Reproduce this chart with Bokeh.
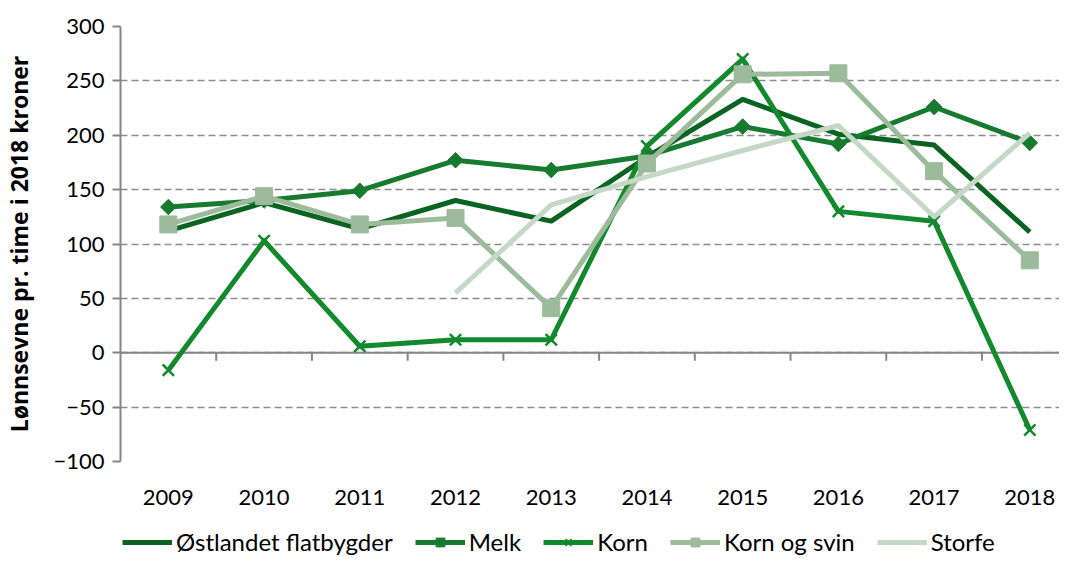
import numpy as np
from bokeh.plotting import figure
from bokeh.layouts import column
from bokeh.models import (Range1d, FixedTicker, Span, Legend, LegendItem, ColumnDataSource)
from bokeh.embed import file_html
from bokeh.resources import INLINE

years = [2009, 2010, 2011, 2012, 2013, 2014, 2015, 2016, 2017, 2018]
ostlandet = [112, 138, 114, 140, 121, 180, 233, 201, 191, 111]
melk = [134, 140, 149, 177, 168, 181, 208, 192, 226, 193]
korn = [-16, 103, 6, 12, 12, 190, 270, 130, 121, -71]
korn_svin = [118, 144, 118, 124, 41, 174, 256, 257, 167, 85]
storfe = [np.nan, np.nan, np.nan, 55, 136, 162, 186, 209, 125, 202]
y_ticks = [-100, -50, 0, 50, 100, 150, 200, 250, 300]
series_names = ["Østlandet flatbygder", "Melk", "Korn", "Korn og svin", "Storfe"]
colors = ["#0b6321", "#177a2f", "#13892e", "#9bbb9b", "#c4d8c5"]

FONT = "Lato"

p = figure(width=1059, height=512, output_backend="svg", toolbar_location=None,
           x_range=Range1d(2008.5, 2018.31), y_range=Range1d(-100, 300),
           min_border_left=109, min_border_right=0, min_border_top=26, min_border_bottom=51)
p.outline_line_color = None
p.background_fill_color = "white"

# grid
p.xgrid.grid_line_color = None
p.ygrid.ticker = FixedTicker(ticks=y_ticks)
p.ygrid.grid_line_color = "#8c8c8c"
p.ygrid.grid_line_dash = "7 4"
p.ygrid.grid_line_width = 1.6

# y axis
p.yaxis.ticker = FixedTicker(ticks=y_ticks)
p.yaxis.axis_line_color = "#868686"
p.yaxis.axis_line_width = 2
p.yaxis.major_tick_line_color = "#868686"
p.yaxis.major_tick_line_width = 2
p.yaxis.major_tick_in = 0
p.yaxis.major_tick_out = 8
p.yaxis.minor_tick_line_color = None
p.yaxis.major_label_text_font = FONT
p.yaxis.major_label_text_font_size = "22px"
p.yaxis.major_label_text_color = "#000000"
p.yaxis.major_label_standoff = 8
p.yaxis.axis_label = "Lønnsevne pr. time i 2018 kroner"
p.yaxis.axis_label_text_font = "Open Sans"
p.yaxis.axis_label_text_font_size = "23px"
p.yaxis.axis_label_text_font_style = "bold"
p.yaxis.axis_label_text_color = "#000000"
p.yaxis.axis_label_standoff = 15

# x axis (labels only)
p.xaxis.ticker = FixedTicker(ticks=years)
p.xaxis.axis_line_color = None
p.xaxis.major_tick_line_color = None
p.xaxis.minor_tick_line_color = None
p.xaxis.major_label_text_font = FONT
p.xaxis.major_label_text_font_size = "22px"
p.xaxis.major_label_text_color = "#000000"
p.xaxis.major_label_standoff = 22

# zero line acting as category axis
p.add_layout(Span(location=0, dimension="width", line_color="#868686", line_width=2, level="underlay"))
bounds = [y + 0.5 for y in years[:-1]]
tick_len = 8 * 400 / 435
p.segment(x0=bounds, y0=[0] * len(bounds), x1=bounds, y1=[-tick_len] * len(bounds),
          line_color="#868686", line_width=2)

# legend strip (same series drawn out of view, only the legend shows)
p2 = figure(width=1059, height=44, output_backend="svg", toolbar_location=None,
            x_axis_location=None, y_axis_location=None,
            x_range=Range1d(0, 1), y_range=Range1d(1000, 1001),
            min_border_left=0, min_border_right=0, min_border_top=0, min_border_bottom=0)
p2.grid.grid_line_color = None
p2.outline_line_color = None

items = []
data = [ostlandet, melk, korn, korn_svin, storfe]
markers = [None, "square", "x", "square", None]
msizes = [0, 11, 16, 17, 0]
angles = [0, np.pi / 4, 0, 0, 0]
for name, vals, col, mk, ms, ang in zip(series_names, data, colors, markers, msizes, angles):
    src = ColumnDataSource(dict(x=years, y=vals))
    p.line("x", "y", source=src, line_color=col, line_width=5, line_join="round")
    rs = [p2.line("x", "y", source=src, line_color=col, line_width=5)]
    if mk is not None:
        if mk == "x":
            p.scatter("x", "y", source=src, marker=mk, size=ms, line_color=col, line_width=2.5)
            rs.append(p2.scatter("x", "y", source=src, marker=mk, size=ms, line_color=col, line_width=2.5))
        else:
            p.scatter("x", "y", source=src, marker=mk, size=ms, angle=ang, fill_color=col, line_color=col)
            rs.append(p2.scatter("x", "y", source=src, marker=mk, size=ms, angle=ang,
                                 fill_color=col, line_color=col))
    items.append(LegendItem(label=name, renderers=rs))

legend = Legend(items=items, orientation="horizontal", location=(2, 0),
                label_text_font=FONT, label_text_font_size="24px", label_text_color="#000000",
                glyph_width=50, glyph_height=22, label_standoff=4, spacing=22,
                padding=0, margin=0, border_line_color=None, background_fill_alpha=0)
p2.add_layout(legend, "center")

layout = column(p, p2, spacing=0)
open("out.html", "w").write(file_html(layout, INLINE))
